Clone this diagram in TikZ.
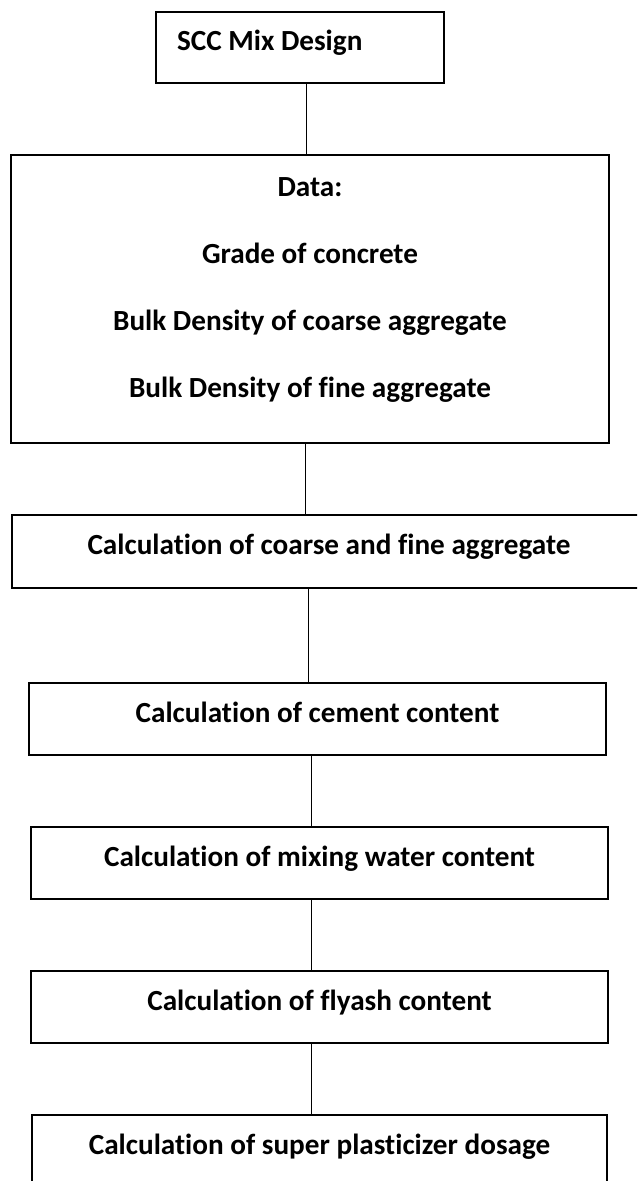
\documentclass[tikz,border=0pt]{standalone}
\usepackage{fontspec}
\setmainfont{Carlito}[RawFeature={-liga;-clig;-dlig}]
\usetikzlibrary{positioning}

\tikzset{
  stepbox/.style={draw, line width=1pt, inner sep=0pt, minimum height=54pt,
    text height=15.5pt, text depth=10.5pt, align=center,
    font=\fontsize{21.9}{26}\selectfont\bfseries},
  databox/.style={draw, line width=1pt, inner sep=0pt, align=center,
    minimum width=448.5pt, minimum height=216pt, text depth=17pt,
    font=\fontsize{21.9}{50.25}\selectfont\bfseries},
  link/.style={line width=0.7pt}
}

\begin{document}
\begin{tikzpicture}[x=0.75pt,y=-0.75pt]
    \useasboundingbox (0,0) rectangle (637,1181);
    \clip (0,0) rectangle (637,1181);

    % boxes, top to bottom
    \node[stepbox, minimum width=216pt, minimum height=53.25pt,
          text width=184.5pt, align=flush left, inner xsep=15.75pt]
          (mix) at (300,47.5) {SCC Mix Design};
    \node[databox] (data) at (310,299)
          {Data:\\Grade of concrete\\Bulk Density of coarse aggregate\\Bulk Density of fine aggregate};
    \node[stepbox, minimum width=475.5pt, minimum height=54.75pt]
          (aggr) at (329,551.5) {Calculation of coarse and fine aggregate};
    \node[stepbox, minimum width=432.75pt] (cement) at (317.5,719)
          {Calculation of cement content};
    \node[stepbox, minimum width=432.75pt] (water) at (319.5,863)
          {Calculation of mixing water content};
    \node[stepbox, minimum width=432.75pt] (flyash) at (319.5,1007)
          {Calculation of flyash content};
    \node[stepbox, minimum width=431.25pt] (superp) at (319.5,1151)
          {Calculation of super plasticizer dosage};

    % connectors
    \draw[link] (mix.south -| 306,0) -- (data.north -| 306,0);
    \draw[link] (data.south -| 305,0) -- (aggr.north -| 305,0);
    \draw[link] (aggr.south -| 308,0) -- (cement.north -| 308,0);
    \draw[link] (cement.south -| 311,0) -- (water.north -| 311,0);
    \draw[link] (water.south -| 311,0) -- (flyash.north -| 311,0);
    \draw[link] (flyash.south -| 311,0) -- (superp.north -| 311,0);
\end{tikzpicture}
\end{document}
